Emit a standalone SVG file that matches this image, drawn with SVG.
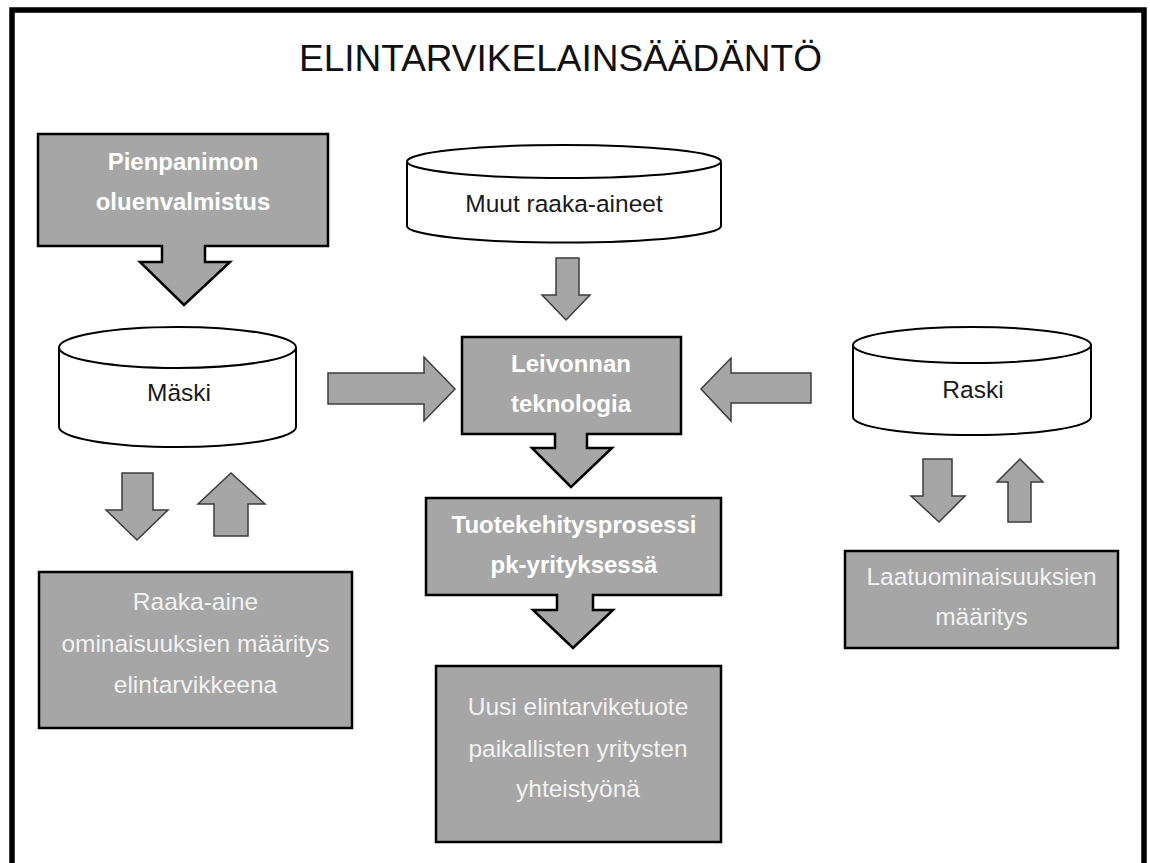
<svg xmlns="http://www.w3.org/2000/svg" width="1150" height="863" viewBox="0 0 1150 863">
  <style>
    text { font-family: "Liberation Sans", Arial, sans-serif; text-anchor: middle; }
    .title { font-size: 37px; fill: #111; }
    .dark { font-size: 24.5px; fill: #1a1a1a; }
    .light { font-size: 24.5px; fill: #f2f2f2; }
    .bold { font-size: 24px; font-weight: bold; fill: #ffffff; }
    .box { fill: #a6a6a6; stroke: #000; stroke-width: 2.5; }
    .callout { fill: #a6a6a6; stroke: #000; stroke-width: 2.5; stroke-linejoin: miter; }
    .cyl { fill: #ffffff; stroke: #000; stroke-width: 2; }
    .arrow { fill: #a6a6a6; stroke: #3c3c3c; stroke-width: 1.5; stroke-linejoin: miter; }
  </style>

  <rect x="0" y="0" width="1150" height="863" fill="#ffffff"/>
  <!-- frame, open at the bottom -->
  <path d="M12,863 V10 H1144 V863" fill="none" stroke="#000" stroke-width="5.5"/>

  <text class="title" x="560.5" y="71">ELINTARVIKELAINSÄÄDÄNTÖ</text>

  <g id="pienpanimo">
    <path class="callout" d="M38,134 H328 V246 H205 V262 H230 L184,305 L140,262 H162 V246 H38 Z"/>
    <text class="bold" x="183" y="170">Pienpanimon</text>
    <text class="bold" x="183" y="210">oluenvalmistus</text>
  </g>

  <g id="muut">
    <path class="cyl" d="M407,161.5 V226 A157,16.5 0 0 0 721,226 V161.5"/>
    <ellipse class="cyl" cx="564" cy="161.5" rx="157" ry="16.5"/>
    <text class="dark" x="564" y="212">Muut raaka-aineet</text>
  </g>

  <g id="maski">
    <path class="cyl" d="M59,347.5 V427 A118.5,20 0 0 0 296,427 V347.5"/>
    <ellipse class="cyl" cx="177.5" cy="347.5" rx="118.5" ry="20.5"/>
    <text class="dark" x="179" y="401">Mäski</text>
  </g>

  <g id="raski">
    <path class="cyl" d="M853,345 V417 A119,18 0 0 0 1091,417 V345"/>
    <ellipse class="cyl" cx="972" cy="345" rx="119" ry="18"/>
    <text class="dark" x="973" y="398">Raski</text>
  </g>

  <g id="leivonta">
    <path class="callout" d="M462,337 H681 V434 H587 V448 H612 L571,487 L532,448 H555 V434 H462 Z"/>
    <text class="bold" x="571" y="372">Leivonnan</text>
    <text class="bold" x="571" y="412">teknologia</text>
  </g>

  <g id="tuotekehitys">
    <path class="callout" d="M426,498 H721 V595 H593 V610 H613 L573,648 L533,610 H557 V595 H426 Z"/>
    <text class="bold" x="574" y="533">Tuotekehitysprosessi</text>
    <text class="bold" x="574" y="573">pk-yrityksessä</text>
  </g>

  <g id="raaka-aine">
    <rect class="box" x="39" y="572" width="313" height="156"/>
    <text class="light" x="195.5" y="610">Raaka-aine</text>
    <text class="light" x="195.5" y="652">ominaisuuksien määritys</text>
    <text class="light" x="195.5" y="693">elintarvikkeena</text>
  </g>

  <g id="laatu">
    <rect class="box" x="845" y="551" width="273" height="97"/>
    <text class="light" x="981.5" y="585">Laatuominaisuuksien</text>
    <text class="light" x="981.5" y="625">määritys</text>
  </g>

  <g id="uusi-tuote">
    <rect class="box" x="436" y="666" width="285" height="176"/>
    <text class="light" x="578" y="715">Uusi elintarviketuote</text>
    <text class="light" x="578" y="757">paikallisten yritysten</text>
    <text class="light" x="578" y="797">yhteistyönä</text>
  </g>

  <g id="connectors">
    <!-- Muut raaka-aineet -> Leivonnan teknologia -->
    <path class="arrow" d="M556,258 H579 V295 H590 L566,320 L542,295 H556 Z"/>
    <!-- Mäski -> Leivonnan teknologia -->
    <path class="arrow" d="M328,373 H424 V357 L455,389 L424,421 V404 H328 Z"/>
    <!-- Raski -> Leivonnan teknologia -->
    <path class="arrow" d="M811,373 H731 V358 L701,389 L731,421 V403 H811 Z"/>
    <!-- Mäski <-> Raaka-aine -->
    <path class="arrow" d="M122,473 H153 V510 H168 L137,540 L106,510 H122 Z"/>
    <path class="arrow" d="M214,536 V504 H198 L231,473 L265,504 H248 V536 Z"/>
    <!-- Raski <-> Laatuominaisuuksien määritys -->
    <path class="arrow" d="M923,459 H952 V496 H965 L939,522 L911,496 H923 Z"/>
    <path class="arrow" d="M1008,522 V482 H997 L1020,459 L1043,482 H1031 V522 Z"/>
  </g>
</svg>
